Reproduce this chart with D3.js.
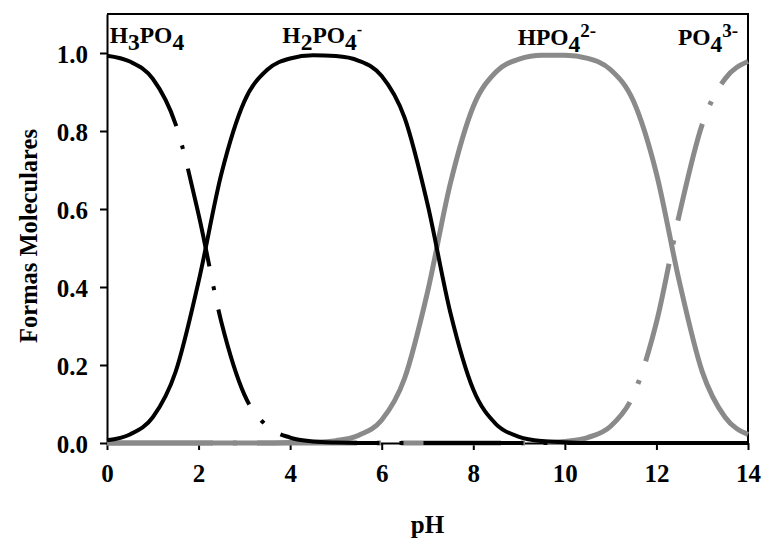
<!DOCTYPE html>
<html><head><meta charset="utf-8">
<script src="https://cdn.jsdelivr.net/npm/d3@7"></script>
<style>body{margin:0;background:#fff}</style>
</head><body><svg id="c" width="765" height="540"></svg>
<script>
// ---- data ----
const pH = [0,0.5,1,1.5,2,2.5,3,3.5,4,4.5,5,5.5,6,6.5,7,7.5,8,8.5,9,9.5,10,10.5,11,11.5,12,12.5,13,13.5,14];
const h3po4 = [0.993,0.978,0.934,0.817,0.586,0.309,0.124,0.043,0.014,0.004,0.001,0,0,0,0,0,0,0,0,0,0,0,0,0,0,0,0,0,0];
const h2po4 = [0.007,0.022,0.066,0.183,0.414,0.691,0.876,0.957,0.986,0.994,0.992,0.980,0.941,0.834,0.613,0.334,0.137,0.048,0.016,0.005,0.002,0,0,0,0,0,0,0,0];
const hpo4  = [0,0,0,0,0,0,0,0,0.001,0.002,0.006,0.020,0.059,0.166,0.387,0.666,0.863,0.952,0.984,0.994,0.994,0.986,0.957,0.876,0.691,0.414,0.183,0.066,0.022];
const po4   = [0,0,0,0,0,0,0,0,0,0,0,0,0,0,0,0,0,0,0,0.001,0.004,0.014,0.043,0.124,0.309,0.586,0.817,0.934,0.978];
const xTicks = [0,2,4,6,8,10,12,14];
const yTicks = [0,0.2,0.4,0.6,0.8,1.0];
const xTitle = "pH";
const yTitle = "Formas Moleculares";
// species labels: segments [text, kind]
const labelNames = [
  [["H",""],["3","sub"],["PO",""],["4","sub"]],
  [["H",""],["2","sub"],["PO",""],["4","sub"],["-","sup"]],
  [["HPO",""],["4","sub"],["2-","sup"]],
  [["PO",""],["4","sub"],["3-","sup"]]
];
const labelAt = [0.06, 3.83, 8.97, 12.47];

// ---- chart ----
const svg = d3.select("#c");
const x = d3.scaleLinear().domain([0,14]).range([107,748]);
const y = d3.scaleLinear().domain([0,1.1]).range([443,14]);
const font = "'Liberation Serif','Times New Roman',serif";

// axes
const gx = svg.append("g").attr("transform","translate(0,443)")
  .call(d3.axisBottom(x).tickValues(xTicks).tickFormat(d3.format("d")).tickSizeInner(7).tickSizeOuter(0).tickPadding(14));
const gy = svg.append("g").attr("transform","translate(107,0)")
  .call(d3.axisLeft(y).tickValues(yTicks).tickFormat(d3.format(".1f")).tickSizeInner(7).tickSizeOuter(0).tickPadding(12));
[gx,gy].forEach(g=>{
  g.selectAll("path,line").attr("stroke","#000").attr("stroke-width",2);
  g.selectAll("text").attr("font-family",font).attr("font-weight","bold").attr("font-size",25).attr("fill","#000");
});
gx.selectAll("text").attr("dy","0.71em");
gy.selectAll("text").attr("dy","0.36em");

// frame top/right
svg.append("path").attr("d",`M${x(0)},${y(1.1)}H${x(14)}V${y(0)}`)
  .attr("fill","none").attr("stroke","#000").attr("stroke-width",2);

// dash-dot pattern: a slightly longer first dash, then regular long dash / dot
const dashDot = [106,20,4,20].concat(d3.range(30).flatMap(()=>[100,20,4,20])).join(",");

// series (drawn last-first so H3PO4 is on top)
const line = (vals)=> d3.line().x((d,i)=>x(pH[i])).y(d=>y(d)).curve(d3.curveMonotoneX)(vals);
const series = [
  {v:po4,   c:"#8a8a8a", w:5, dash:dashDot},
  {v:hpo4,  c:"#8a8a8a", w:5, dash:null},
  {v:h2po4, c:"#000",    w:4, dash:null},
  {v:h3po4, c:"#000",    w:4, dash:dashDot}
];
series.forEach(s=>{
  const p = svg.append("path").attr("d",line(s.v)).attr("fill","none")
    .attr("stroke",s.c).attr("stroke-width",s.w).attr("stroke-linecap","butt");
  if(s.dash) p.attr("stroke-dasharray",s.dash);
});

// species labels
const labY = [43,43,45,45];
labelNames.forEach((segs,k)=>{
  const t = svg.append("text").attr("x",x(labelAt[k])).attr("y",labY[k])
    .attr("font-family",font).attr("font-weight","bold").attr("font-size",23.5).attr("fill","#000");
  let shift = 0;
  segs.forEach(([txt,kind])=>{
    let target = kind==="sub"?7:(kind==="sup"?-8:0);
    const ts = t.append("tspan").text(txt).attr("dy",target-shift);
    if(kind==="sup") ts.attr("font-size", txt==="-"?16:19);
    shift = target;
  });
});

// axis titles
svg.append("text").attr("x",(x(0)+x(14))/2).attr("y",533).attr("text-anchor","middle")
  .attr("font-family",font).attr("font-weight","bold").attr("font-size",25).text(xTitle);
svg.append("text").attr("transform",`translate(37,${236}) rotate(-90)`).attr("text-anchor","middle")
  .attr("font-family",font).attr("font-weight","bold").attr("font-size",24.5).text(yTitle);
</script>
</body></html>
